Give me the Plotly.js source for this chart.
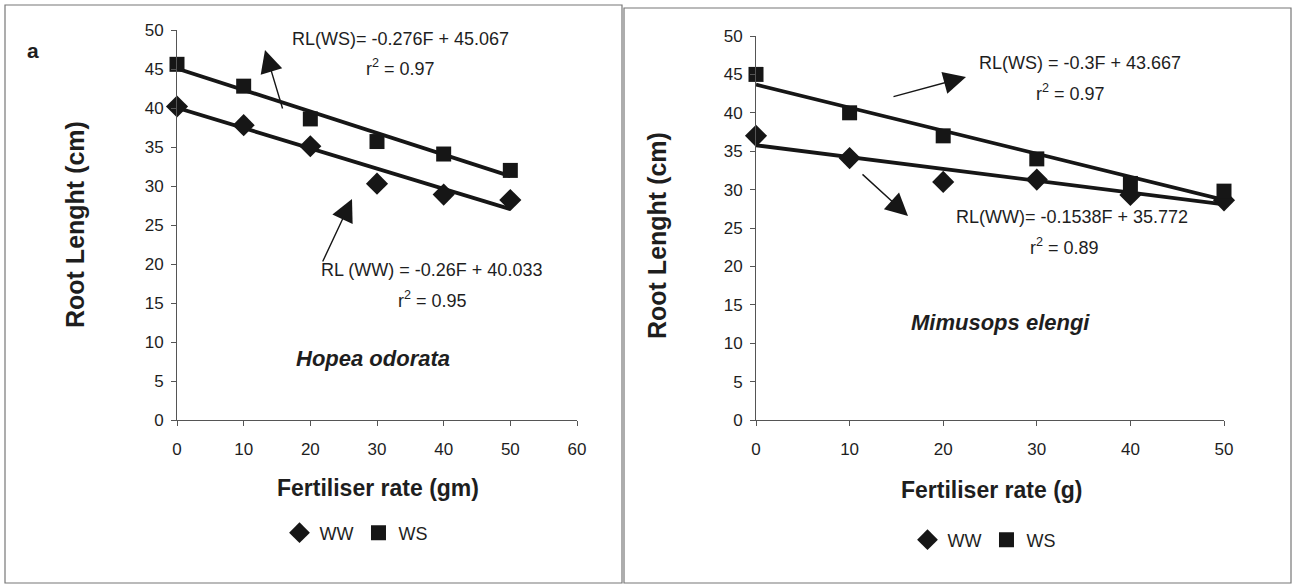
<!DOCTYPE html>
<html>
<head>
<meta charset="utf-8">
<script src="https://cdn.plot.ly/plotly-3.0.1.min.js"></script>
<style>html,body{margin:0;padding:0;background:#fff;}#chart{width:1301px;height:586px;}</style>
</head>
<body>
<div id="chart"></div>
<script>
// Fertiliser rate levels
const rate = [0, 10, 20, 30, 40, 50];
// Panel a: Hopea odorata (root length, cm)
const hopeaWW = [40.2, 37.8, 35.1, 30.3, 28.9, 28.2];
const hopeaWS = [45.6, 42.8, 38.6, 35.7, 34.1, 32.0];
// Panel b: Mimusops elengi (root length, cm)
const mimusopsWW = [37.0, 34.1, 31.0, 31.3, 29.3, 28.6];
const mimusopsWS = [45.0, 40.0, 37.0, 34.0, 30.8, 29.8];
// Linear fits [slope, intercept]
const hopeaFitWW = [-0.26, 40.033];
const hopeaFitWS = [-0.276, 45.067];
const mimusopsFitWW = [-0.1538, 35.772];
const mimusopsFitWS = [-0.3, 43.667];
const fitRange = [0, 50];
// Labels
const seriesNames = ['WW', 'WS'];
const yTitle = 'Root Lenght (cm)';
const xTitleA = 'Fertiliser rate (gm)';
const xTitleB = 'Fertiliser rate (g)';

const W = 1301, H = 586;
const px = v => v / W;
const py = v => 1 - v / H;
const FONT = 'Liberation Sans, Arial, sans-serif';
const INK = '#161616';
const TXT = '#1e1e1e';

function fitLine(fit, xa, ya) {
  return {
    x: fitRange, y: fitRange.map(f => fit[0] * f + fit[1]),
    mode: 'lines', line: {color: INK, width: 3.8},
    xaxis: xa, yaxis: ya, showlegend: false, hoverinfo: 'skip'
  };
}
function pts(y, name, sym, size, xa, ya, lg) {
  return {
    x: rate, y: y, name: name, mode: 'markers', cliponaxis: false,
    marker: {symbol: sym, size: size, color: INK},
    xaxis: xa, yaxis: ya, legend: lg
  };
}

const traces = [
  fitLine(hopeaFitWW, 'x', 'y'),
  fitLine(hopeaFitWS, 'x', 'y'),
  pts(hopeaWW, seriesNames[0], 'diamond', 17, 'x', 'y', 'legend'),
  pts(hopeaWS, seriesNames[1], 'square', 15, 'x', 'y', 'legend'),
  fitLine(mimusopsFitWW, 'x2', 'y2'),
  fitLine(mimusopsFitWS, 'x2', 'y2'),
  pts(mimusopsWW, seriesNames[0], 'diamond', 17, 'x2', 'y2', 'legend2'),
  pts(mimusopsWS, seriesNames[1], 'square', 15, 'x2', 'y2', 'legend2')
];

const axBase = {
  showgrid: false, zeroline: false, showline: true, linecolor: '#555', linewidth: 1,
  ticks: 'outside', ticklen: 5, tickcolor: '#555', tickwidth: 1,
  tickfont: {family: FONT, size: 17, color: TXT}, fixedrange: true
};

function txt(x, y, text, size, extra) {
  return Object.assign({xref: 'paper', yref: 'paper', x: px(x), y: py(y), text: text, showarrow: false,
    xanchor: 'center', yanchor: 'middle', font: {family: FONT, size: size, color: TXT}}, extra || {});
}
function arrow(hx, hy, tx, ty) {
  return {xref: 'paper', yref: 'paper', axref: 'pixel', ayref: 'pixel', x: px(hx), y: py(hy),
    ax: tx - hx, ay: ty - hy, text: '', showarrow: true, arrowhead: 2, arrowsize: 3.2,
    arrowwidth: 1.4, arrowcolor: INK};
}
const legendBase = {orientation: 'h', xanchor: 'center', yanchor: 'middle', itemwidth: 30,
  font: {family: FONT, size: 18, color: TXT}, bgcolor: 'rgba(0,0,0,0)'};

const layout = {
  width: W, height: H,
  margin: {l: 0, r: 0, t: 0, b: 0},
  paper_bgcolor: '#fff', plot_bgcolor: 'rgba(0,0,0,0)',
  font: {family: FONT, color: TXT},
  xaxis: Object.assign({}, axBase, {domain: [px(177), px(577)], range: [0, 60], dtick: 10, anchor: 'y', ticklabelstandoff: 9}),
  yaxis: Object.assign({}, axBase, {domain: [py(420), py(30)], range: [0, 50], dtick: 5, anchor: 'x', ticklabelstandoff: 4}),
  xaxis2: Object.assign({}, axBase, {domain: [px(756), px(1224)], range: [0, 50], dtick: 10, anchor: 'y2', ticklabelstandoff: 9}),
  yaxis2: Object.assign({}, axBase, {domain: [py(420), py(36)], range: [0, 50], dtick: 5, anchor: 'x2', ticklabelstandoff: 4}),
  legend: Object.assign({}, legendBase, {x: px(356), y: py(533)}),
  legend2: Object.assign({}, legendBase, {x: px(984), y: py(540)}),
  shapes: [
    {type: 'rect', xref: 'paper', yref: 'paper', x0: px(5), x1: px(622), y0: py(583), y1: py(5), line: {color: '#777', width: 1.2}},
    {type: 'rect', xref: 'paper', yref: 'paper', x0: px(624), x1: px(1291), y0: py(583), y1: py(8), line: {color: '#777', width: 1.2}}
  ],
  annotations: [
    txt(33, 50, '<b>a</b>', 21),
    txt(75, 225, '<b>' + yTitle + '</b>', 25, {textangle: -90}),
    txt(657, 236, '<b>' + yTitle + '</b>', 25, {textangle: -90}),
    txt(378, 488, '<b>' + xTitleA + '</b>', 23),
    txt(992, 490, '<b>' + xTitleB + '</b>', 23),
    txt(373, 358, '<b><i>Hopea odorata</i></b>', 22),
    txt(1000, 322, '<b><i>Mimusops elengi</i></b>', 22),
    txt(400, 39, 'RL(WS)= -0.276F + 45.067', 18),
    txt(400, 68, 'r<sup>2</sup> = 0.97', 18),
    txt(431, 270, 'RL (WW) = -0.26F + 40.033', 18),
    txt(432, 299, 'r<sup>2</sup> = 0.95', 18),
    txt(1080, 63, 'RL(WS) = -0.3F + 43.667', 18),
    txt(1070, 92, 'r<sup>2</sup> = 0.97', 18),
    txt(1072, 217, 'RL(WW)= -0.1538F + 35.772', 18),
    txt(1064, 246, 'r<sup>2</sup> = 0.89', 18),
    arrow(265, 50, 283, 110),
    arrow(352, 199, 322, 263),
    arrow(966, 77, 892, 97),
    arrow(908, 216, 861, 173)
  ]
};

Plotly.newPlot('chart', traces, layout, {displayModeBar: false, staticPlot: true});
</script>
</body>
</html>
